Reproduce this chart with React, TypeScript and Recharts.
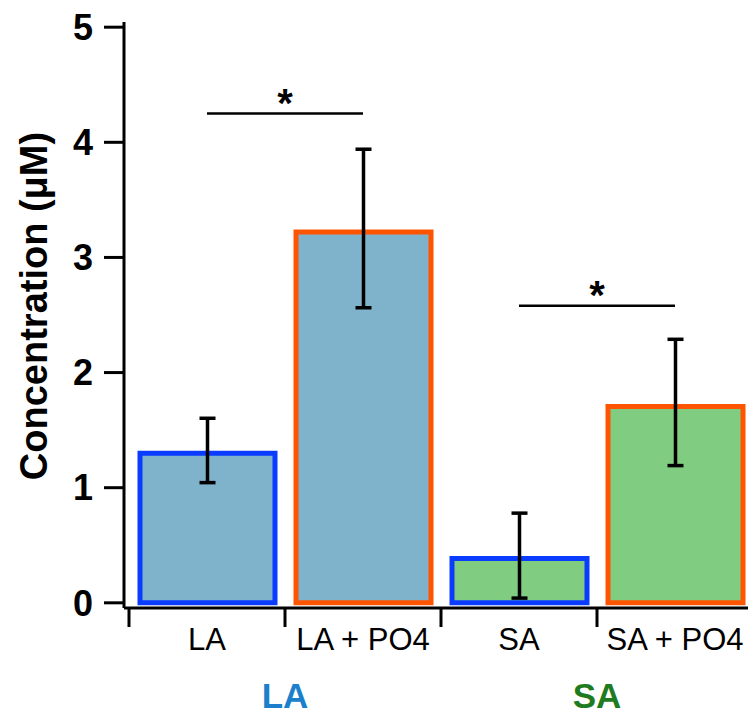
import {
  Bar,
  BarChart,
  Cell,
  ErrorBar,
  ReferenceLine,
  XAxis,
  YAxis,
} from "recharts";

// conditions along the x axis
const conditions = ["LA", "LA + PO4", "SA", "SA + PO4"];
// mean concentration (µM)
const means = [1.3, 3.22, 0.386, 1.706];
// error bar ends
const errLow = [1.044, 2.563, 0.041, 1.192];
const errHigh = [1.603, 3.94, 0.779, 2.289];

const yTicks = [0, 1, 2, 3, 4, 5];
// boundaries between the conditions, used for the tick marks
const boundaryTicks = [0, 1, 2, 3, 4];
// group names, placed under the boundary between their two bars
const groupNames = ["LA", "SA"];
const groupTicks = [1, 3];

// significance brackets: [from, to, height]
const sigPairs: [string, string, number][] = [
  ["LA", "LA + PO4", 4.25],
  ["SA", "SA + PO4", 2.58],
];

const fills = ["#7fb2cb", "#7fb2cb", "#80cc80", "#80cc80"];
const strokes = ["#0a3cff", "#ff5500", "#0a3cff", "#ff5500"];
const groupColors = ["#1b7fcc", "#1e7b1e"];

const FONT = '"Liberation Sans", Arial, sans-serif';

const data = conditions.map((name, i) => ({
  name,
  pos: i + 0.5,
  value: means[i],
  err: [means[i] - errLow[i], errHigh[i] - means[i]],
}));

function YLabel() {
  return (
    <text
      x={34}
      y={306}
      transform="rotate(-90 34 306)"
      textAnchor="middle"
      dominantBaseline="central"
      fontFamily={FONT}
      fontWeight="bold"
      fontSize={38}
      fill="#000"
    >
      Concentration (μM)
    </text>
  );
}

function GroupTick(props: any) {
  const { x, y, payload } = props;
  const i = groupTicks.indexOf(payload.value);
  if (i < 0) return null;
  return (
    <text
      x={x}
      y={y + 33}
      textAnchor="middle"
      fontFamily={FONT}
      fontWeight="bold"
      fontSize={35}
      fill={groupColors[i]}
    >
      {groupNames[i]}
    </text>
  );
}

export default function App() {
  return (
    <div
      style={{
        position: "absolute",
        left: 0,
        top: 0,
        width: 748,
        height: 717,
        overflow: "hidden",
        background: "#fff",
      }}
    >
      <BarChart
        width={760}
        height={717}
        data={data}
        margin={{ top: 22, right: 7, left: 0, bottom: 0 }}
        barSize={135}
      >
        <XAxis
          xAxisId="top"
          orientation="top"
          type="number"
          dataKey="pos"
          domain={[0, 4]}
          height={0}
          tick={false}
          tickLine={false}
          axisLine={{ stroke: "#000", strokeWidth: 3 }}
        />
        <XAxis
          xAxisId="bounds"
          type="number"
          dataKey="pos"
          domain={[0, 4]}
          ticks={boundaryTicks}
          padding={{ left: 5, right: 0 }}
          height={20}
          tickSize={19}
          tickFormatter={() => ""}
          tickLine={{ stroke: "#000", strokeWidth: 3 }}
          axisLine={{ stroke: "#000", strokeWidth: 3 }}
        />
        <XAxis
          xAxisId="cat"
          dataKey="name"
          padding={{ left: 5, right: 0 }}
          height={45}
          tickSize={0}
          tickMargin={0}
          tickLine={false}
          axisLine={false}
          tick={{ fontSize: 31, fill: "#000", fontFamily: FONT }}
        />
        <XAxis
          xAxisId="groups"
          type="number"
          dataKey="pos"
          domain={[0, 4]}
          ticks={groupTicks}
          padding={{ left: 5, right: 0 }}
          height={44}
          tickSize={0}
          tickLine={false}
          axisLine={false}
          tick={<GroupTick />}
        />
        <YAxis
          domain={[-0.045, 5.045]}
          ticks={yTicks}
          width={124}
          tickSize={20}
          tickMargin={11}
          interval={0}
          allowDataOverflow
          tick={{ fontSize: 36, fontWeight: "bold", fill: "#000", fontFamily: FONT }}
          tickLine={{ stroke: "#000", strokeWidth: 3 }}
          axisLine={{ stroke: "#000", strokeWidth: 3 }}
          label={<YLabel />}
        />
        <Bar
          xAxisId="cat"
          dataKey="value"
          strokeWidth={5}
          isAnimationActive={false}
        >
          {data.map((d, i) => (
            <Cell key={d.name} fill={fills[i]} stroke={strokes[i]} />
          ))}
          <ErrorBar
            dataKey="err"
            direction="y"
            width={8}
            stroke="#000"
            strokeWidth={3.5}
            isAnimationActive={false}
          />
        </Bar>
        {sigPairs.map(([a, b, h]) => (
          <ReferenceLine
            key={a}
            xAxisId="cat"
            segment={[
              { x: a, y: h },
              { x: b, y: h },
            ]}
            stroke="#000"
            strokeWidth={2.5}
            label={{
              value: "*",
              position: "top",
              offset: -3,
              fontSize: 40,
              fontWeight: "bold",
              fill: "#000",
              fontFamily: FONT,
            }}
          />
        ))}
      </BarChart>
    </div>
  );
}
